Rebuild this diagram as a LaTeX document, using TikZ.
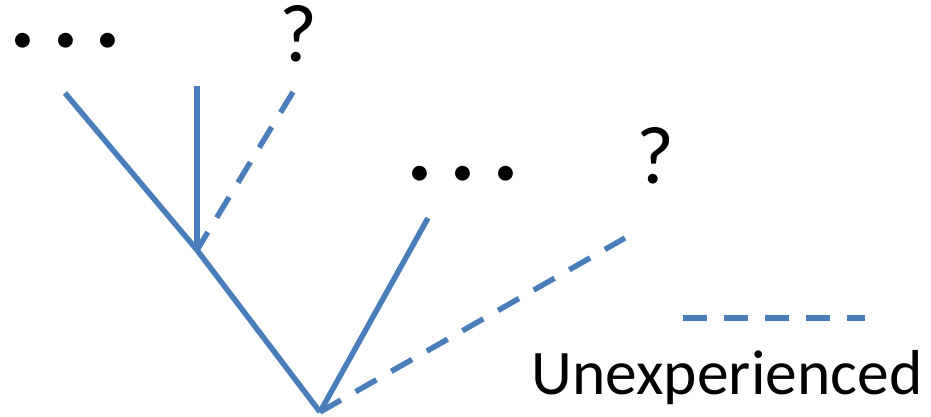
\documentclass[tikz,border=0pt]{standalone}
\usepackage{fontspec}
\setmainfont{Carlito}
\definecolor{branch}{HTML}{4A7EBB}
\tikzset{
  solidbranch/.style={draw=branch, line width=5.5pt},
  dashbranch/.style={draw=branch, line width=5.5pt, dash pattern=on 24pt off 17pt},
  qmark/.style={inner sep=0pt, anchor=base, font=\fontsize{82}{96}\selectfont},
  dotsmark/.style={inner sep=0pt, anchor=center, font=\fontsize{42}{50}\selectfont},
  legendtext/.style={inner sep=0pt, anchor=base, font=\fontsize{63.5}{76}\selectfont}
}
\begin{document}
\begin{tikzpicture}[x=1pt,y=-1pt]
\useasboundingbox (0,0) rectangle (931,417);
% coordinates
\coordinate (root) at (320,412);
\coordinate (junc) at (197,250);
\coordinate (leftend) at (65,93);
\coordinate (vertend) at (197,86);
\coordinate (dashend) at (293,92);
\coordinate (rightend) at (428,218);
\coordinate (rdashend) at (625,238);
\coordinate (legA) at (683,318);
\coordinate (legB) at (865,318);
% branches
\draw[solidbranch] (root) -- (junc);
\draw[solidbranch] (junc) -- (leftend);
\draw[solidbranch] (junc) -- (vertend);
\draw[dashbranch] (dashend) -- (junc);
\draw[solidbranch] (root) -- (rightend);
\draw[dashbranch] (root) -- (rdashend);
\draw[dashbranch] (legA) -- (legB);
% labels
\node[dotsmark] (dotsA) at (65.5,43) {•\hspace{22pt}•\hspace{22pt}•};
\node[dotsmark] (dotsB) at (463,175.5) {•\hspace{22pt}•\hspace{22pt}•};
\node[qmark] (qA) at (298.5,62) {?};
\node[qmark] (qB) at (655,183) {?};
\node[legendtext] (leg) at (727,394) {Unexperienced};
\end{tikzpicture}
\end{document}
